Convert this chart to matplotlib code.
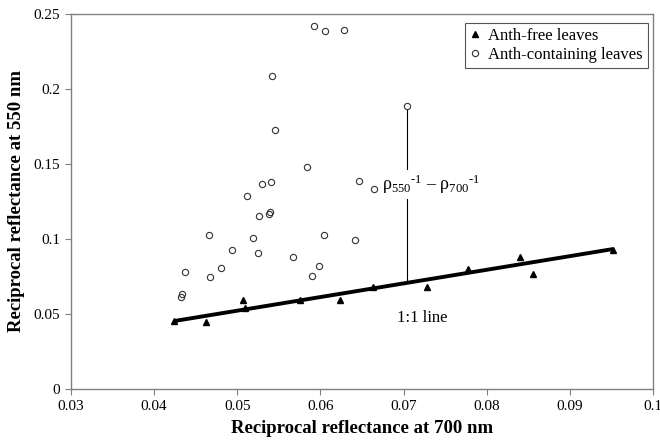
import matplotlib.pyplot as plt
import numpy as np

plt.rcParams['font.family'] = ['Liberation Serif', 'DejaVu Serif']
plt.rcParams['mathtext.fontset'] = 'custom'
plt.rcParams['mathtext.rm'] = 'Liberation Serif'
plt.rcParams['mathtext.it'] = 'Liberation Serif:italic'

# anthocyanin-free leaves
free_x = [0.0424, 0.0462, 0.0507, 0.0509, 0.0575, 0.0624, 0.0663, 0.0728,
          0.0778, 0.0840, 0.0856, 0.0952]
free_y = [0.0453, 0.0447, 0.0593, 0.0540, 0.0593, 0.0593, 0.0680, 0.0680,
          0.0800, 0.0880, 0.0767, 0.0927]

# anthocyanin-containing leaves
anth_x = [0.0434, 0.0432, 0.0437, 0.0467, 0.0480, 0.0466, 0.0494, 0.0519,
          0.0525, 0.0512, 0.0526, 0.0538, 0.0539, 0.0530, 0.0541, 0.0567,
          0.0598, 0.0590, 0.0604, 0.0642, 0.0646, 0.0664, 0.0592, 0.0605,
          0.0628, 0.0542, 0.0545, 0.0584, 0.0704]
anth_y = [0.0633, 0.0613, 0.0780, 0.0747, 0.0807, 0.1027, 0.0927, 0.1007,
          0.0907, 0.1287, 0.1153, 0.1167, 0.1180, 0.1367, 0.1380, 0.0880,
          0.0820, 0.0753, 0.1027, 0.0993, 0.1387, 0.1333, 0.2420, 0.2387,
          0.2393, 0.2087, 0.1727, 0.1480, 0.1887]

# reference line through the anth-free leaves
line_x = [0.0424, 0.0952]
line_y = [0.0453, 0.0933]

# difference marker at the highlighted leaf
diff_x = 0.0704
diff_top = 0.1887

xticks = [0.03, 0.04, 0.05, 0.06, 0.07, 0.08, 0.09, 0.1]
xlabels = ['0.03', '0.04', '0.05', '0.06', '0.07', '0.08', '0.09', '0.1']
yticks = [0, 0.05, 0.1, 0.15, 0.2, 0.25]
ylabels = ['0', '0.05', '0.1', '0.15', '0.2', '0.25']

fig = plt.figure(figsize=(6.6, 4.41), dpi=100)
ax = fig.add_axes([0.1076, 0.1179, 0.8818, 0.8504])

ax.plot(line_x, line_y, color='black', lw=2.8, solid_capstyle='butt', zorder=2)

# vertical distance from the leaf to the 1:1 line
diff_bottom = np.interp(diff_x, line_x, line_y)
ax.plot([diff_x, diff_x], [diff_bottom, diff_top - 0.0025], color='black', lw=0.8, zorder=1)
ax.text(0.0733, 0.1365,
        '$\\mathrm{ρ}_{550}{}^{\\mathrm{\u20101}}$ \u2013 $\\mathrm{ρ}_{700}{}^{\\mathrm{\u20101}}$',
        fontsize=13, ha='center', va='center', zorder=3,
        bbox=dict(facecolor='white', edgecolor='none', pad=2))
ax.text(0.0692, 0.0473, '1:1 line', fontsize=12, ha='left', va='center')

ax.plot(free_x, free_y, linestyle='none', marker='^', markersize=5,
        color='black', label='Anth-free leaves', zorder=4)
ax.plot(anth_x, anth_y, linestyle='none', marker='o', markersize=4.5,
        markerfacecolor='none', markeredgecolor='#333333', markeredgewidth=0.8,
        label='Anth-containing leaves', zorder=4)

ax.set_xlim(0.03, 0.1)
ax.set_ylim(0, 0.25)
ax.set_xticks(xticks)
ax.set_xticklabels(xlabels)
ax.set_yticks(yticks)
ax.set_yticklabels(ylabels)
ax.tick_params(direction='out', length=4, width=0.8, color='#808080',
               labelsize=11, pad=4)
for s in ax.spines.values():
    s.set_color('#808080')
    s.set_linewidth(1)

ax.set_xlabel('Reciprocal reflectance at 700 nm', fontsize=13.5, fontweight='bold', va='center')
ax.set_ylabel('Reciprocal reflectance at 550 nm', fontsize=13.5, fontweight='bold', va='center')
ax.xaxis.set_label_coords(0.5, -0.104)
ax.yaxis.set_label_coords(-0.093, 0.5)

leg = ax.legend(loc='upper right', bbox_to_anchor=(0.9914, 0.976), borderaxespad=0,
                fancybox=False, edgecolor='#555555', fontsize=12, handlelength=0.6,
                handletextpad=0.5, borderpad=0.3, labelspacing=0.2, framealpha=1)
leg.get_frame().set_linewidth(0.8)

fig.savefig('out.png', dpi=100)
